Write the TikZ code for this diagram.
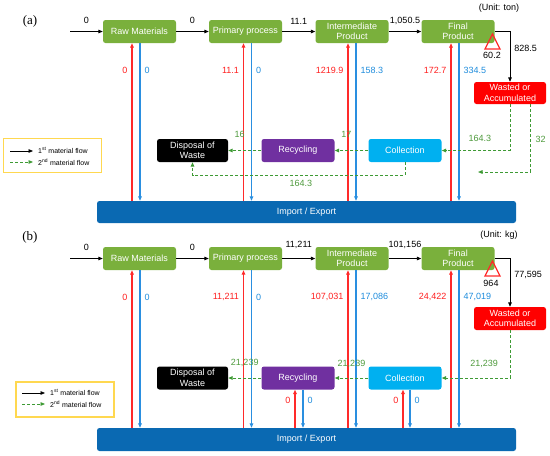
\documentclass[tikz,border=0pt]{standalone}
\usepackage{fontspec}
\setmainfont{Liberation Sans}
\newfontfamily\titlefont{Liberation Serif}
\usetikzlibrary{arrows.meta}

\definecolor{procgreen}{HTML}{7AB03C}
\definecolor{wastered}{HTML}{FF0000}
\definecolor{recpurple}{HTML}{7030A0}
\definecolor{colcyan}{HTML}{00B0F0}
\definecolor{barblue}{HTML}{0A69B2}
\definecolor{lnred}{HTML}{FF2A2A}
\definecolor{lnblue}{HTML}{2A8FE0}
\definecolor{numred}{HTML}{FF1E1E}
\definecolor{numblue}{HTML}{1E8CDC}
\definecolor{flowgreen}{HTML}{3E9A34}
\definecolor{numgreen}{HTML}{4E9A3C}
\definecolor{legyellow}{HTML}{FFD850}

\tikzset{
  box/.style={rounded corners=2.5pt, text=white, minimum width=73pt, minimum height=23pt,
    inner sep=1pt, align=center, font=\fontsize{9}{10.5}\selectfont},
  proc/.style={box, fill=procgreen},
  tip/.style={-{Triangle[length=4.5pt,width=3.6pt]}},
  flow/.style={tip, line width=0.9pt},
  second/.style={tip, dash pattern=on 3pt off 2pt, line width=1pt, flowgreen},
  inred/.style={tip, line width=1.1pt, lnred},
  outblue/.style={tip, line width=1.1pt, lnblue},
  num/.style={font=\fontsize{9}{10}\selectfont, inner sep=2pt},
  panel/.style={font=\titlefont\fontsize{13}{14}\selectfont},
  legtext/.style={anchor=west, inner sep=0pt, font=\fontsize{7}{8}\selectfont},
}

\begin{document}
\begin{tikzpicture}[x=1pt,y=-1pt]
\useasboundingbox (0,0) rectangle (550,456);

% (a) in ton
\begin{scope}
\node[panel] at (30,21) {(a)};
\node[num] at (499,8) {(Unit: ton)};
\coordinate (in-a) at (70,31.5);
\node[proc] (raw-a) at (139.5,31.5) {Raw Materials};
\node[proc] (pri-a) at (245.5,31.5) {Primary process};
\node[proc] (int-a) at (352,31.5) {Intermediate\\Product};
\node[proc] (fin-a) at (458,31.5) {Final\\Product};
\node[box, fill=wastered, minimum width=72pt, minimum height=22pt] (was-a) at (510,93) {Wasted or\\Accumulated};
\node[box, fill=black, minimum width=71pt] (dis-a) at (192.5,150.5) {Disposal of\\Waste};
\node[box, fill=recpurple] (rec-a) at (298,150.5) {Recycling};
\node[box, fill=colcyan] (col-a) at (405,150.5) {Collection};
\node[box, fill=barblue, minimum width=419pt, minimum height=22pt] (imp-a) at (306.5,212) {Import / Export};

\draw[flow] (in-a) -- (raw-a) node[midway,above=5pt,num]{0};
\draw[flow] (raw-a) -- (pri-a) node[midway,above=5pt,num]{0};
\draw[flow] (pri-a) -- (int-a) node[midway,above=5pt,num]{11.1};
\draw[flow] (int-a) -- (fin-a) node[midway,above=4pt,num]{1,050.5};
\draw[flow] (fin-a.east) -| (was-a.north) node[pos=0.67,right=2pt,num]{828.5};
\draw[lnred, line width=1.3pt] (485,49) -- (492.5,34) -- (500,49) -- cycle;
\node[num] at (492,55) {60.2};

\foreach \n/\dr/\db/\vr/\vb in {raw-a/-7.5/0.5/0/0, pri-a/-2/6/11.1/0, int-a/-4/4/1219.9/158.3, fin-a/-7/1/172.7/334.5}{
  \draw[inred] ([xshift=\dr pt]\n.south |- imp-a.north) -- ([xshift=\dr pt]\n.south)
    node[pos=0.83,left=2pt,num,text=numred]{\vr};
  \draw[outblue] ([xshift=\db pt]\n.south) -- ([xshift=\db pt]\n.south |- imp-a.north)
    node[pos=0.17,right=2pt,num,text=numblue]{\vb};
}

\draw[second] (rec-a) -- (dis-a) node[midway,xshift=-5pt,yshift=16pt,num,text=numgreen]{16};
\draw[second] (col-a) -- (rec-a) node[midway,xshift=-5pt,yshift=16pt,num,text=numgreen]{17};
\draw[second] (was-a.south) |- (col-a.east) node[pos=0.72,yshift=12pt,num,text=numgreen]{164.3};
\coordinate (end-a) at (478,172);
\draw[second] ([xshift=20pt]was-a.south) |- (end-a) node[pos=0.26,right=3pt,num,text=numgreen]{32};
\draw[second] (col-a.south) -- ++(0,13) -| (dis-a.south) node[pos=0.245,yshift=-8pt,num,text=numgreen]{164.3};

% legend
\node[draw=legyellow, line width=1.2pt, minimum width=98pt, minimum height=34pt, inner sep=0pt] (leg-a) at (52.5,155.5) {};
\draw[flow, line width=0.7pt] (10,151) -- (33,151);
\draw[second, line width=0.8pt] (10,162) -- (33,162);
\node[legtext] at (38,150) {1\textsuperscript{st} material flow};
\node[legtext] at (38,162) {2\textsuperscript{nd} material flow};
\end{scope}

% (b) in kg
\begin{scope}[yshift=-227pt]
\node[panel] at (30,10) {(b)};
\node[num] at (499,8) {(Unit: kg)};
\coordinate (in-b) at (70,31.5);
\node[proc] (raw-b) at (139.5,31.5) {Raw Materials};
\node[proc] (pri-b) at (245.5,31.5) {Primary process};
\node[proc] (int-b) at (352,31.5) {Intermediate\\Product};
\node[proc] (fin-b) at (458,31.5) {Final\\Product};
\node[box, fill=wastered, minimum width=72pt, minimum height=23pt] (was-b) at (510,91.5) {Wasted or\\Accumulated};
\node[box, fill=black, minimum width=71pt] (dis-b) at (192.5,151) {Disposal of\\Waste};
\node[box, fill=recpurple] (rec-b) at (298,151) {Recycling};
\node[box, fill=colcyan] (col-b) at (405,151) {Collection};
\node[box, fill=barblue, minimum width=419pt, minimum height=23pt] (imp-b) at (306.5,212.5) {Import / Export};

\draw[flow] (in-b) -- (raw-b) node[midway,above=5pt,num]{0};
\draw[flow] (raw-b) -- (pri-b) node[midway,above=5pt,num]{0};
\draw[flow] (pri-b) -- (int-b) node[midway,above=7pt,num]{11,211};
\draw[flow] (int-b) -- (fin-b) node[midway,above=7pt,num]{101,156};
\draw[flow] (fin-b.east) -| (was-b.north) node[pos=0.67,right=2pt,num]{77,595};
\draw[lnred, line width=1.3pt] (485,49) -- (492.5,34) -- (500,49) -- cycle;
\node[num] at (491,56) {964};

\foreach \n/\dr/\db/\vr/\vb in {raw-b/-7.5/0.5/0/0, pri-b/-2/6/{11,211}/0, int-b/-4/4/{107,031}/{17,086}, fin-b/-7/1/{24,422}/{47,019}}{
  \draw[inred] ([xshift=\dr pt]\n.south |- imp-b.north) -- ([xshift=\dr pt]\n.south)
    node[pos=0.83,left=2pt,num,text=numred]{\vr};
  \draw[outblue] ([xshift=\db pt]\n.south) -- ([xshift=\db pt]\n.south |- imp-b.north)
    node[pos=0.17,right=2pt,num,text=numblue]{\vb};
}
\foreach \n/\dr/\db in {rec-b/-3/5, col-b/-2/5}{
  \draw[inred] ([xshift=\dr pt]\n.south |- imp-b.north) -- ([xshift=\dr pt]\n.south)
    node[pos=0.72,left=2pt,num,text=numred]{0};
  \draw[outblue] ([xshift=\db pt]\n.south) -- ([xshift=\db pt]\n.south |- imp-b.north)
    node[pos=0.28,right=2pt,num,text=numblue]{0};
}

\draw[second] (rec-b) -- (dis-b) node[midway,yshift=15pt,num,text=numgreen]{21,239};
\draw[second] (col-b) -- (rec-b) node[midway,yshift=14pt,num,text=numgreen]{21,239};
\draw[second] (was-b.south) |- (col-b.east) node[pos=0.69,yshift=14pt,num,text=numgreen]{21,239};

% legend
\node[draw=legyellow, line width=1.2pt, minimum width=98pt, minimum height=35pt, inner sep=0pt] (leg-b) at (65,172.5) {};
\draw[flow, line width=0.7pt] (22,166) -- (45,166);
\draw[second, line width=0.8pt] (22,177) -- (45,177);
\node[legtext] at (50,165) {1\textsuperscript{st} material flow};
\node[legtext] at (50,177) {2\textsuperscript{nd} material flow};
\end{scope}
\end{tikzpicture}
\end{document}
